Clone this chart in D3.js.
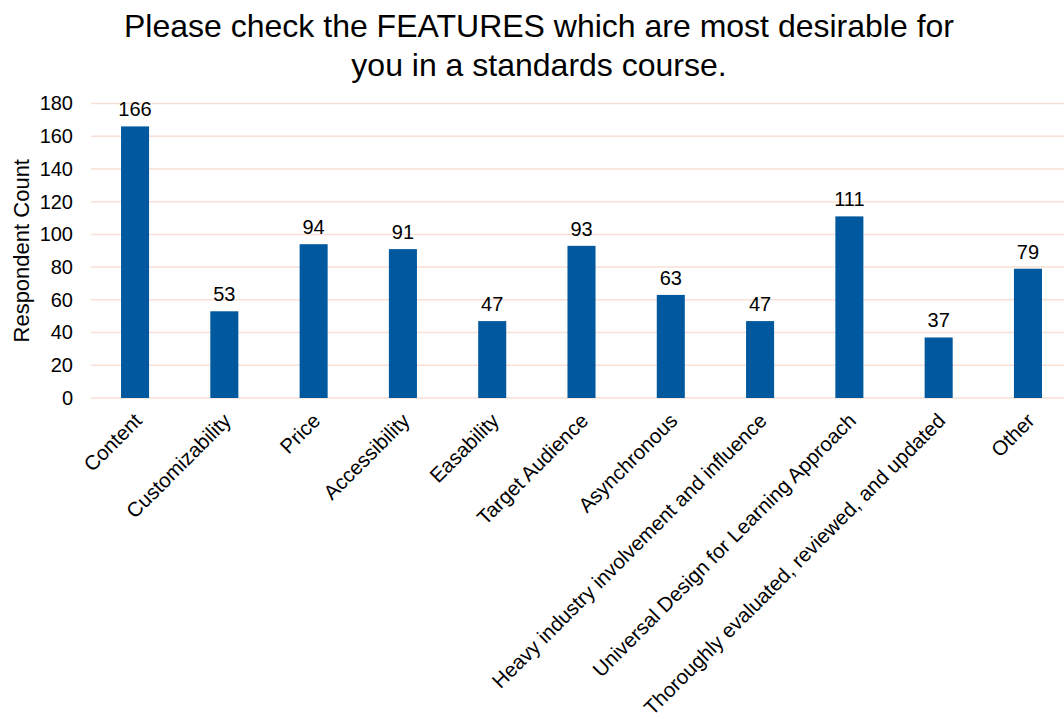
<!DOCTYPE html>
<html>
<head>
<meta charset="utf-8">
<script src="https://cdn.jsdelivr.net/npm/d3@7"></script>
<style>
  html, body { margin: 0; padding: 0; background: #fff; }
  svg { display: block; font-family: "Liberation Sans", Arial, sans-serif; }
</style>
</head>
<body>
<svg id="chart" width="1064" height="719"></svg>
<script>
// Survey results: desirable features in a standards course
const categories = [
  "Content", "Customizability", "Price", "Accessibility", "Easability",
  "Target Audience", "Asynchronous", "Heavy industry involvement and influence",
  "Universal Design for Learning Approach", "Thoroughly evaluated, reviewed, and updated", "Other"
];
const counts = [166, 53, 94, 91, 47, 93, 63, 47, 111, 37, 79];
const yTicks = [0, 20, 40, 60, 80, 100, 120, 140, 160, 180];
const titleLines = [
  "Please check the FEATURES which are most desirable for",
  "you in a standards course."
];
const yTitle = "Respondent Count";

const svg = d3.select("#chart");
const W = 1064, H = 719;
const FONT = "Liberation Sans, Arial, sans-serif";

const x = d3.scaleBand()
  .domain(categories)
  .range([90.4, 1072.6])
  .paddingInner(0.686)
  .paddingOuter(0.343);

const y = d3.scaleLinear()
  .domain([0, 180])
  .range([398, 103.5]);

// Horizontal gridlines
svg.append("g")
  .selectAll("line")
  .data(yTicks)
  .join("line")
  .attr("x1", 91)
  .attr("x2", W)
  .attr("y1", d => y(d))
  .attr("y2", d => y(d))
  .attr("stroke", "#f9e0d6")
  .attr("stroke-width", 1.5);

// Y axis tick labels
const yAxis = d3.axisLeft(y).tickValues(yTicks).tickSize(0).tickPadding(0);
const yg = svg.append("g")
  .attr("transform", "translate(73,0)")
  .call(yAxis);
yg.select(".domain").remove();
yg.selectAll("text")
  .attr("font-size", 20)
  .attr("fill", "#000")
  .attr("font-family", FONT);

// Y axis title
svg.append("text")
  .attr("transform", `translate(29,${y(90)}) rotate(-90)`)
  .attr("text-anchor", "middle")
  .attr("font-size", 22)
  .attr("fill", "#000")
  .text(yTitle);

// Bars
svg.append("g")
  .selectAll("rect")
  .data(categories)
  .join("rect")
  .attr("x", d => x(d))
  .attr("width", x.bandwidth())
  .attr("y", (d, i) => y(counts[i]))
  .attr("height", (d, i) => y(0) - y(counts[i]))
  .attr("fill", "#00599e");

// Value labels
svg.append("g")
  .selectAll("text")
  .data(categories)
  .join("text")
  .attr("x", d => x(d) + x.bandwidth() / 2)
  .attr("y", (d, i) => y(counts[i]) - 10)
  .attr("text-anchor", "middle")
  .attr("font-size", 20)
  .attr("fill", "#000")
  .text((d, i) => counts[i]);

// Category labels, rotated
const xAxis = d3.axisBottom(x).tickSize(0).tickPadding(0);
const xg = svg.append("g")
  .attr("transform", "translate(0,398)")
  .call(xAxis);
xg.select(".domain").remove();
xg.selectAll("text")
  .attr("font-size", 20.5)
  .attr("fill", "#000")
  .attr("font-family", FONT)
  .attr("text-anchor", "end")
  .attr("dy", null)
  .attr("y", 0)
  .attr("transform", "translate(8,24) rotate(-45)");

// Title
svg.append("g")
  .selectAll("text")
  .data(titleLines)
  .join("text")
  .attr("x", 539)
  .attr("y", (d, i) => 36.5 + i * 39.5)
  .attr("text-anchor", "middle")
  .attr("font-size", 32)
  .attr("fill", "#000")
  .text(d => d);
</script>
</body>
</html>
